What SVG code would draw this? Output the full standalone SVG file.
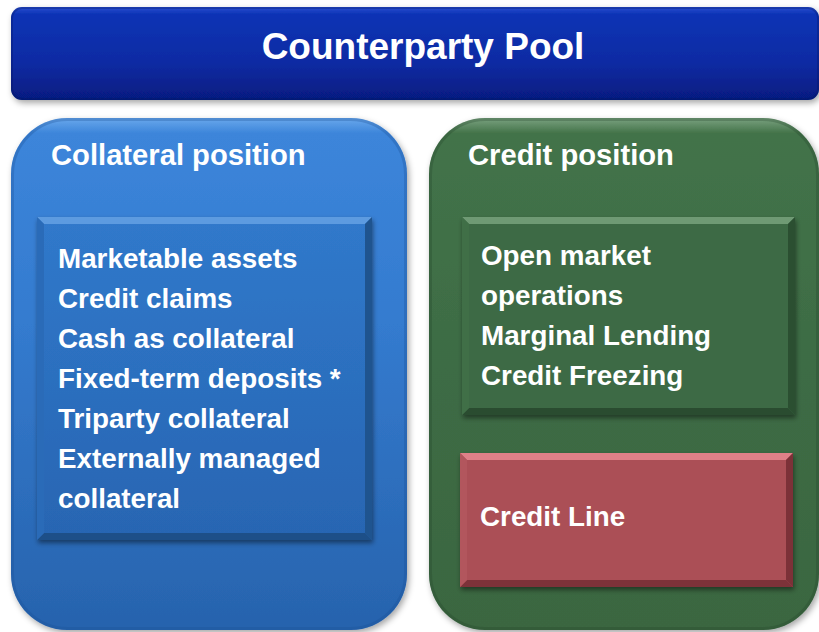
<svg xmlns="http://www.w3.org/2000/svg" width="819" height="632" viewBox="0 0 819 632">
<defs>
<style>
text{font-family:"Liberation Sans",Arial,sans-serif;font-weight:bold;fill:#ffffff}
.title{font-size:37px}
.head{font-size:29.2px}
.body{font-size:27.8px}
</style>
<linearGradient id="gBanner" x1="0" y1="0" x2="0" y2="1">
<stop offset="0" stop-color="#2a4fd0"/>
<stop offset="0.08" stop-color="#0c33b5"/>
<stop offset="0.6" stop-color="#0a2ba3"/>
<stop offset="1" stop-color="#061c80"/>
</linearGradient>
<linearGradient id="gBlue" x1="0" y1="0" x2="0" y2="1">
<stop offset="0" stop-color="#6aa8ec"/>
<stop offset="0.03" stop-color="#3c85da"/>
<stop offset="0.4" stop-color="#347bcf"/>
<stop offset="1" stop-color="#2763ad"/>
</linearGradient>
<linearGradient id="gGreen" x1="0" y1="0" x2="0" y2="1">
<stop offset="0" stop-color="#7aa280"/>
<stop offset="0.03" stop-color="#437349"/>
<stop offset="0.4" stop-color="#3e6d45"/>
<stop offset="1" stop-color="#3a6641"/>
</linearGradient>
<linearGradient id="gInBlue" x1="0" y1="0" x2="0" y2="1">
<stop offset="0" stop-color="#3079cb"/>
<stop offset="1" stop-color="#2865b2"/>
</linearGradient>
<filter id="sh" x="-10%" y="-10%" width="125%" height="125%">
<feDropShadow dx="2" dy="3" stdDeviation="3" flood-color="#000" flood-opacity="0.35"/>
</filter>
<filter id="shS" x="-10%" y="-10%" width="125%" height="125%">
<feDropShadow dx="1" dy="3" stdDeviation="2.5" flood-color="#000" flood-opacity="0.45"/>
</filter>
</defs>

<g id="banner">
<rect x="11" y="7" width="808" height="93" rx="11" fill="url(#gBanner)" filter="url(#sh)"/>
<rect x="12" y="8" width="806" height="91" rx="10" fill="none" stroke="#03145e" stroke-opacity="0.3" stroke-width="2"/>
<text class="title" x="423" y="59" text-anchor="middle">Counterparty Pool</text>
</g>

<g id="collateral-position">
<rect x="11" y="118" width="396" height="512" rx="56" fill="url(#gBlue)" filter="url(#sh)"/>
<rect x="12.5" y="119.5" width="393" height="509" rx="55" fill="none" stroke="#1b4f95" stroke-opacity="0.3" stroke-width="3"/>
<text class="head" x="51" y="165">Collateral position</text>
</g>

<g id="credit-position">
<rect x="429" y="118" width="390" height="512" rx="56" fill="url(#gGreen)" filter="url(#sh)"/>
<rect x="430.5" y="119.5" width="387" height="509" rx="55" fill="none" stroke="#25472b" stroke-opacity="0.3" stroke-width="3"/>
<text class="head" x="468" y="165">Credit position</text>
</g>

<g id="collateral-types">
<rect x="37" y="217" width="335" height="323" fill="url(#gInBlue)" filter="url(#shS)"/>
<polygon points="37,217 372,217 365,224 44,224" fill="#5d9be0"/>
<polygon points="372,217 372,540 365,533 365,224" fill="#1f548f"/>
<polygon points="37,540 372,540 365,533 44,533" fill="#1d4f88"/>
<polygon points="37,217 44,224 44,533 37,540" fill="#2a6bb8"/>
<text class="body" x="58" y="268">Marketable assets</text>
<text class="body" x="58" y="308">Credit claims</text>
<text class="body" x="58" y="348">Cash as collateral</text>
<text class="body" x="58" y="388">Fixed-term deposits *</text>
<text class="body" x="58" y="428">Triparty collateral</text>
<text class="body" x="58" y="468">Externally managed</text>
<text class="body" x="58" y="508">collateral</text>
</g>

<g id="operations">
<rect x="462" y="217" width="333" height="198" fill="#3c6b44" filter="url(#shS)"/>
<polygon points="462,217 795,217 788,224 469,224" fill="#6f9a74"/>
<polygon points="795,217 795,415 788,408 788,224" fill="#2b4f31"/>
<polygon points="462,415 795,415 788,408 469,408" fill="#2a4c30"/>
<polygon points="462,217 469,224 469,408 462,415" fill="#406f47"/>
<text class="body" x="481" y="265">Open market</text>
<text class="body" x="481" y="305">operations</text>
<text class="body" x="481" y="345">Marginal Lending</text>
<text class="body" x="481" y="385">Credit Freezing</text>
</g>

<g id="credit-line">
<rect x="460" y="453" width="333" height="134" fill="#ab5057" filter="url(#shS)"/>
<polygon points="460,453 793,453 786,460 467,460" fill="#e08088"/>
<polygon points="793,453 793,587 786,580 786,460" fill="#7c3138"/>
<polygon points="460,587 793,587 786,580 467,580" fill="#7d3239"/>
<polygon points="460,453 467,460 467,580 460,587" fill="#b2565d"/>
<text class="body" x="480" y="526">Credit Line</text>
</g>

<g id="connectors"></g>
</svg>
